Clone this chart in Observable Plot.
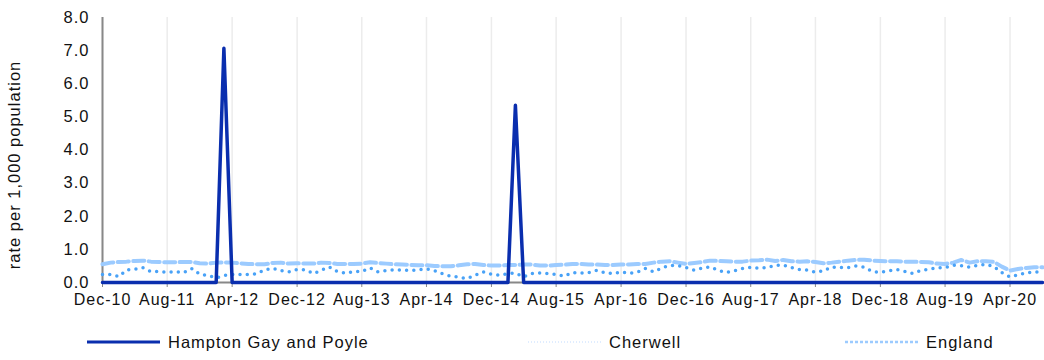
<!DOCTYPE html>
<html><head><meta charset="utf-8">
<script src="https://cdn.jsdelivr.net/npm/d3@7"></script>
<script src="https://cdn.jsdelivr.net/npm/@observablehq/plot@0.6"></script>
<style>
body{margin:0;background:#fff;font-family:"Liberation Sans",Arial,sans-serif;}
#wrap{position:relative;width:1044px;height:360px;overflow:hidden;}
.leg{position:absolute;top:332px;height:20px;display:flex;align-items:center;font-size:16.5px;letter-spacing:1px;color:#111;white-space:nowrap;}
.leg svg{margin-right:8px;}
</style></head><body><div id="wrap"></div>
<script>
const startMonth = "Dec-10";
const seriesNames = ["Hampton Gay and Poyle", "Cherwell", "England"];
const yLabel = "rate per 1,000 population";
const xTickLabels = ["Dec-10","Aug-11","Apr-12","Dec-12","Aug-13","Apr-14","Dec-14","Aug-15","Apr-16","Dec-16","Aug-17","Apr-18","Dec-18","Aug-19","Apr-20"];
const yTickValues = [0,1,2,3,4,5,6,7,8];
const endMonth = "Aug-20";

const hampton = [
0,0,0,0,0,0,0,0,0,0,0,0,
0,0,0,7.07,0,0,0,0,0,0,0,0,
0,0,0,0,0,0,0,0,0,0,0,0,
0,0,0,0,0,0,0,0,0,0,0,0,
0,0,0,5.35,0,0,0,0,0,0,0,0,
0,0,0,0,0,0,0,0,0,0,0,0,
0,0,0,0,0,0,0,0,0,0,0,0,
0,0,0,0,0,0,0,0,0,0,0,0,
0,0,0,0,0,0,0,0,0,0,0,0,
0,0,0,0,0,0,0,0,0];

const cherwell = [
0.24,0.24,0.18,0.38,0.40,0.45,0.33,0.33,0.31,0.33,0.30,0.42,
0.25,0.21,0.14,0.21,0.24,0.24,0.24,0.26,0.38,0.43,0.36,0.32,
0.39,0.38,0.27,0.37,0.47,0.33,0.28,0.33,0.33,0.44,0.32,0.36,
0.38,0.38,0.36,0.38,0.41,0.36,0.26,0.19,0.16,0.12,0.22,0.32,
0.25,0.22,0.27,0.28,0.17,0.27,0.29,0.27,0.24,0.19,0.30,0.28,
0.30,0.37,0.29,0.27,0.32,0.28,0.31,0.42,0.32,0.44,0.51,0.51,
0.45,0.37,0.44,0.47,0.37,0.30,0.35,0.42,0.46,0.43,0.45,0.52,
0.53,0.45,0.39,0.38,0.31,0.35,0.47,0.45,0.45,0.50,0.46,0.33,
0.31,0.35,0.39,0.34,0.27,0.36,0.40,0.44,0.45,0.52,0.51,0.46,
0.52,0.55,0.48,0.30,0.17,0.23,0.29,0.31,0.32];

const england = [
0.55,0.60,0.62,0.63,0.65,0.66,0.63,0.62,0.61,0.61,0.62,0.62,
0.58,0.57,0.60,0.61,0.60,0.58,0.56,0.55,0.55,0.59,0.60,0.57,
0.58,0.57,0.57,0.60,0.59,0.56,0.56,0.56,0.57,0.61,0.59,0.57,
0.55,0.54,0.53,0.52,0.52,0.50,0.49,0.49,0.52,0.55,0.56,0.53,
0.51,0.51,0.53,0.53,0.54,0.54,0.51,0.51,0.53,0.54,0.56,0.56,
0.54,0.54,0.53,0.53,0.54,0.54,0.56,0.56,0.60,0.63,0.64,0.60,
0.56,0.59,0.62,0.66,0.65,0.64,0.63,0.63,0.66,0.67,0.69,0.65,
0.68,0.64,0.63,0.64,0.62,0.58,0.60,0.63,0.66,0.68,0.69,0.66,
0.65,0.64,0.64,0.63,0.63,0.62,0.61,0.57,0.56,0.60,0.68,0.60,
0.64,0.64,0.62,0.48,0.36,0.41,0.44,0.46,0.46];

const colors = {hampton:"#0a2eae", cherwell:"#49a2f7", england:"#9ccbff"};

const parse = d3.utcParse("%b-%y");
const fmt = d3.utcFormat("%b-%y");
const start = parse(startMonth);
const end = parse(endMonth);
const toRows = arr => arr.map((v, i) => ({date: d3.utcMonth.offset(start, i), v}));
const xTicks = xTickLabels.map(parse);

const chart = Plot.plot({
  width: 1044,
  height: 315,
  marginTop: 17,
  marginBottom: 33,
  marginLeft: 102,
  marginRight: 2,
  style: {fontFamily: "'Liberation Sans', Arial, sans-serif", fontSize: "16.5px", color: "#111", background: "#fff", letterSpacing: "1px"},
  x: {type: "utc", domain: [start, end]},
  y: {domain: [0, 8]},
  marks: [
    Plot.gridX(xTicks, {stroke: "#ececec", strokeOpacity: 1, strokeWidth: 1.5}),
    Plot.axisX(xTicks, {tickFormat: d => fmt(d), tickSize: 5, tickPadding: 6, stroke: "#888", fontSize: 16, label: null}),
    Plot.axisY(yTickValues, {tickSize: 0, tickPadding: 13, tickFormat: d => d.toFixed(1), fontSize: 16.5, label: null}),
    Plot.ruleY([0], {stroke: "#888", strokeWidth: 2}),
    Plot.ruleX([start], {stroke: "#888", strokeWidth: 2}),
    Plot.line(toRows(england), {x: "date", y: "v", stroke: colors.england, strokeWidth: 4, strokeDasharray: "11,4.5"}),
    Plot.line(toRows(cherwell), {x: "date", y: "v", stroke: colors.cherwell, strokeWidth: 3.5, strokeDasharray: "0,7.25", strokeLinecap: "round"}),
    Plot.line(toRows(hampton), {x: "date", y: "v", stroke: colors.hampton, strokeWidth: 3.5})
  ]
});

const wrap = document.getElementById("wrap");
wrap.appendChild(chart);

d3.select(chart).append("text")
  .attr("transform", "translate(16,165) rotate(-90)")
  .attr("text-anchor", "middle")
  .attr("dominant-baseline", "middle")
  .attr("fill", "#111")
  .style("font-size", "16.5px")
  .text(yLabel);

const legendItems = [
  {name: seriesNames[0], left: 87, color: colors.hampton, dash: null, w: 3},
  {name: seriesNames[1], left: 528, color: "#d6e8ff", dash: "1,2", w: 1.5},
  {name: seriesNames[2], left: 845, color: colors.england, dash: "3,2", w: 2.5}
];
legendItems.forEach(it => {
  const d = document.createElement("div");
  d.className = "leg";
  d.style.left = it.left + "px";
  d.innerHTML = `<svg width="73" height="10"><line x1="0" x2="73" y1="5" y2="5" stroke="${it.color}" stroke-width="${it.w}" ${it.dash ? `stroke-dasharray="${it.dash}"` : ""}/></svg><span></span>`;
  d.querySelector("span").textContent = it.name;
  wrap.appendChild(d);
});
</script></body></html>
